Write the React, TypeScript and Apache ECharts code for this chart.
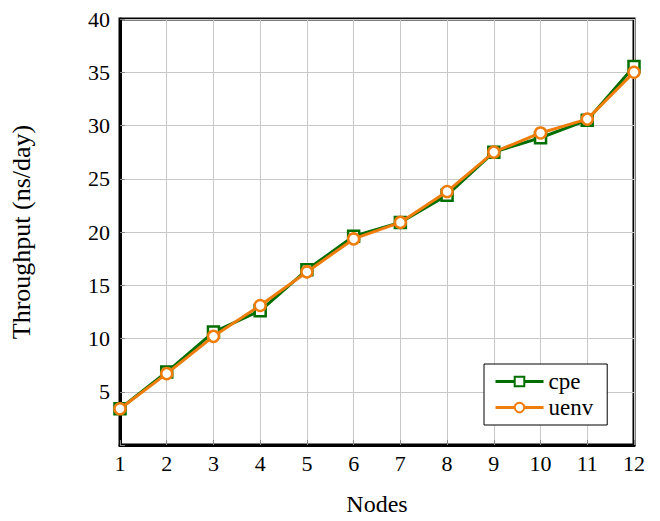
import React, { useEffect, useRef } from "react";
import * as echarts from "echarts";

const nodes = [1, 2, 3, 4, 5, 6, 7, 8, 9, 10, 11, 12];
const cpe = [3.4, 6.85, 10.6, 12.6, 16.45, 19.6, 20.9, 23.45, 27.5, 28.85, 30.5, 35.55];
const uenv = [3.4, 6.7, 10.2, 13.1, 16.25, 19.35, 20.9, 23.8, 27.5, 29.3, 30.6, 35.0];
const seriesNames = ["cpe", "uenv"];

const FONT = "Liberation Serif";

export default function App() {
  const ref = useRef<HTMLDivElement>(null);
  useEffect(() => {
    document.body.style.margin = "0";
    if (!ref.current) return;
    const chart = echarts.init(ref.current, null, { renderer: "svg" });
    chart.setOption({
      animation: false,
      textStyle: { fontFamily: FONT, color: "#000" },
      grid: {
        left: 118,
        right: 26,
        top: 19,
        bottom: 70,
        show: true,
        borderColor: "#000",
        borderWidth: 3,
        backgroundColor: "transparent",
      },
      legend: {
        left: 484,
        top: 364,
        orient: "vertical",
        backgroundColor: "#fff",
        borderColor: "#000",
        borderWidth: 1,
        borderRadius: 0,
        padding: [6, 14, 6, 10],
        itemWidth: 48,
        itemHeight: 12,
        itemGap: 3,
        lineStyle: { width: 3 },
        textStyle: { fontFamily: FONT, fontSize: 23, color: "#000" },
        data: seriesNames,
      },
      xAxis: {
        type: "value",
        min: 1,
        max: 12,
        interval: 1,
        name: "Nodes",
        nameLocation: "middle",
        nameGap: 47,
        nameTextStyle: { fontFamily: FONT, fontSize: 24, color: "#000" },
        axisLine: { show: true, lineStyle: { color: "#000", width: 3 } },
        axisTick: { show: true, inside: true, length: 5, lineStyle: { color: "#888" } },
        axisLabel: { fontFamily: FONT, fontSize: 22, color: "#000", margin: 7 },
        splitLine: { show: true, lineStyle: { color: "#c8c8c8", width: 1 } },
      },
      yAxis: {
        type: "value",
        min: 0,
        max: 40,
        interval: 5,
        name: "Throughput (ns/day)",
        nameLocation: "middle",
        nameGap: 86,
        nameTextStyle: { fontFamily: FONT, fontSize: 26, color: "#000" },
        axisLine: { show: true, lineStyle: { color: "#000", width: 3 } },
        axisTick: { show: true, inside: true, length: 5, lineStyle: { color: "#888" } },
        axisLabel: {
          fontFamily: FONT,
          fontSize: 22,
          color: "#000",
          margin: 10,
          formatter: (v: number) => (v === 0 ? "" : String(v)),
        },
        splitLine: { show: true, lineStyle: { color: "#c8c8c8", width: 1 } },
      },
      series: [
        {
          name: "cpe",
          type: "line",
          data: nodes.map((n, i) => [n, cpe[i]]),
          symbol: "rect",
          symbolSize: 11,
          showAllSymbol: true,
          lineStyle: { color: "#006e00", width: 3 },
          itemStyle: { color: "#fff", borderColor: "#006e00", borderWidth: 2.5 },
          z: 2,
        },
        {
          name: "uenv",
          type: "line",
          data: nodes.map((n, i) => [n, uenv[i]]),
          symbol: "circle",
          symbolSize: 11,
          showAllSymbol: true,
          lineStyle: { color: "#ef7d0b", width: 3 },
          itemStyle: { color: "#fff", borderColor: "#ef7d0b", borderWidth: 2.5 },
          z: 3,
        },
      ],
    });
    return () => chart.dispose();
  }, []);
  return <div ref={ref} style={{ width: 660, height: 521 }} />;
}
